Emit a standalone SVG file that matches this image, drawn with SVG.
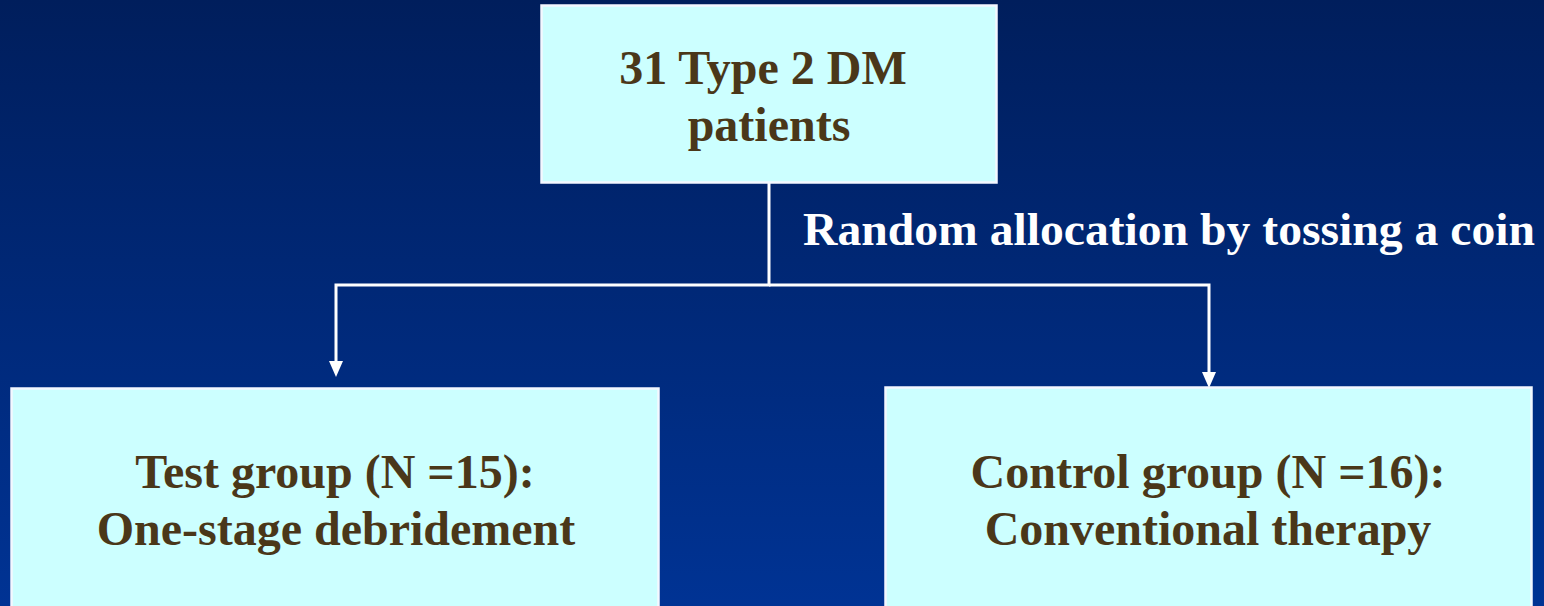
<svg xmlns="http://www.w3.org/2000/svg" width="1544" height="606" viewBox="0 0 1544 606">
<defs>
<linearGradient id="bg" x1="0" y1="0" x2="0" y2="1">
<stop offset="0" stop-color="#001e5c"/>
<stop offset="1" stop-color="#003394"/>
</linearGradient>
<style>
.box{fill:#ccffff;stroke:#f4f8ff;stroke-width:2.5}
.t{font-family:"Liberation Serif","Times New Roman",serif;font-weight:bold;font-size:48px;fill:#4a3719;text-anchor:middle}
.lbl{font-family:"Liberation Serif","Times New Roman",serif;font-weight:bold;font-size:47px;fill:#ffffff}
.c{fill:none;stroke:#ffffff;stroke-width:3}
.ah{fill:#ffffff}
</style>
</defs>
<rect width="1544" height="606" fill="url(#bg)"/>
<g id="connectors">
<path class="c" d="M769,183 V285 H336 V361"/>
<path class="c" d="M769,285 H1209 V373"/>
<path class="ah" d="M329,361 L343,361 L336,377 Z"/>
<path class="ah" d="M1202,372 L1216,372 L1209,388 Z"/>
<text class="lbl" x="803" y="245" textLength="732" lengthAdjust="spacingAndGlyphs">Random allocation by tossing a coin</text>
</g>
<g id="node-patients">
<rect class="box" x="541.5" y="5.5" width="455" height="177"/>
<text class="t" x="763" y="84">31 Type 2 DM</text>
<text class="t" x="769" y="141">patients</text>
</g>
<g id="node-test">
<rect class="box" x="11.5" y="388.5" width="647" height="230"/>
<text class="t" x="335" y="488">Test group (N =15):</text>
<text class="t" x="336" y="545">One-stage debridement</text>
</g>
<g id="node-control">
<rect class="box" x="885.5" y="387.5" width="646" height="230"/>
<text class="t" x="1208" y="488">Control group (N =16):</text>
<text class="t" x="1208" y="545">Conventional therapy</text>
</g>
</svg>
